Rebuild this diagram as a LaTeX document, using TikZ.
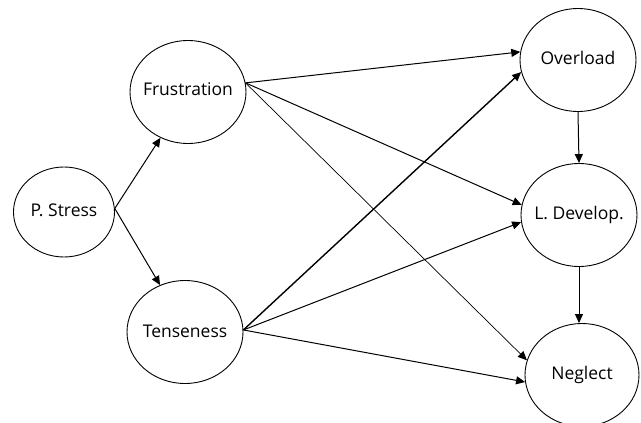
\documentclass[tikz,border=0pt]{standalone}
\usepackage{fontspec}
\setmainfont{Open Sans}
\usetikzlibrary{shapes.geometric,arrows.meta}
\newcommand{\vlab}[2][0pt]{\makebox[0pt]{\raisebox{#1}{#2}}}
\begin{document}
\begin{tikzpicture}[x=1pt,y=-1pt,
  var/.style={draw,ellipse,line width=0.9pt,inner sep=0pt,minimum width=116pt,minimum height=103pt,font=\fontsize{17.5}{19}\selectfont},
  arr/.style={-{Triangle[length=9pt,width=8pt]},line width=1pt},
  thinarr/.style={arr,line width=0.7pt},
  thickarr/.style={arr,line width=1.4pt}]
\useasboundingbox (0,0) rectangle (641,423);
\node[var,minimum width=101pt,minimum height=90pt] (ps) at (64,212) {\vlab[3pt]{P. Stress}};
\node[var] (fr) at (188,92) {\vlab[5pt]{Frustration}};
\node[var] (te) at (185,332) {\vlab[2pt]{Tenseness}};
\node[var] (ov) at (578,60) {\vlab[4pt]{Overload}};
\node[var] (ld) at (579,215) {\vlab{L. Develop.}};
\node[var,minimum width=114pt] (ne) at (582,375) {\vlab[2pt]{Neglect}};
\draw[arr] (ps.4) -- (fr.239);
\draw[arr] (ps.4) -- (te.118);
\draw[arr] (fr.9) -- (ov.172);
\draw[arr] (fr.9) -- (ld.170);
\draw[thinarr] (fr.9) -- (ne.165);
\draw[thickarr] (te.2) -- (ov.192);
\draw[arr] (te.2) -- (ld.187);
\draw[arr] (te.2) -- (ne.187);
\draw[arr] (ov.south) -- (ld.north);
\draw[arr] (ld.south) -- (ne.north -| ld.south);
\end{tikzpicture}
\end{document}
